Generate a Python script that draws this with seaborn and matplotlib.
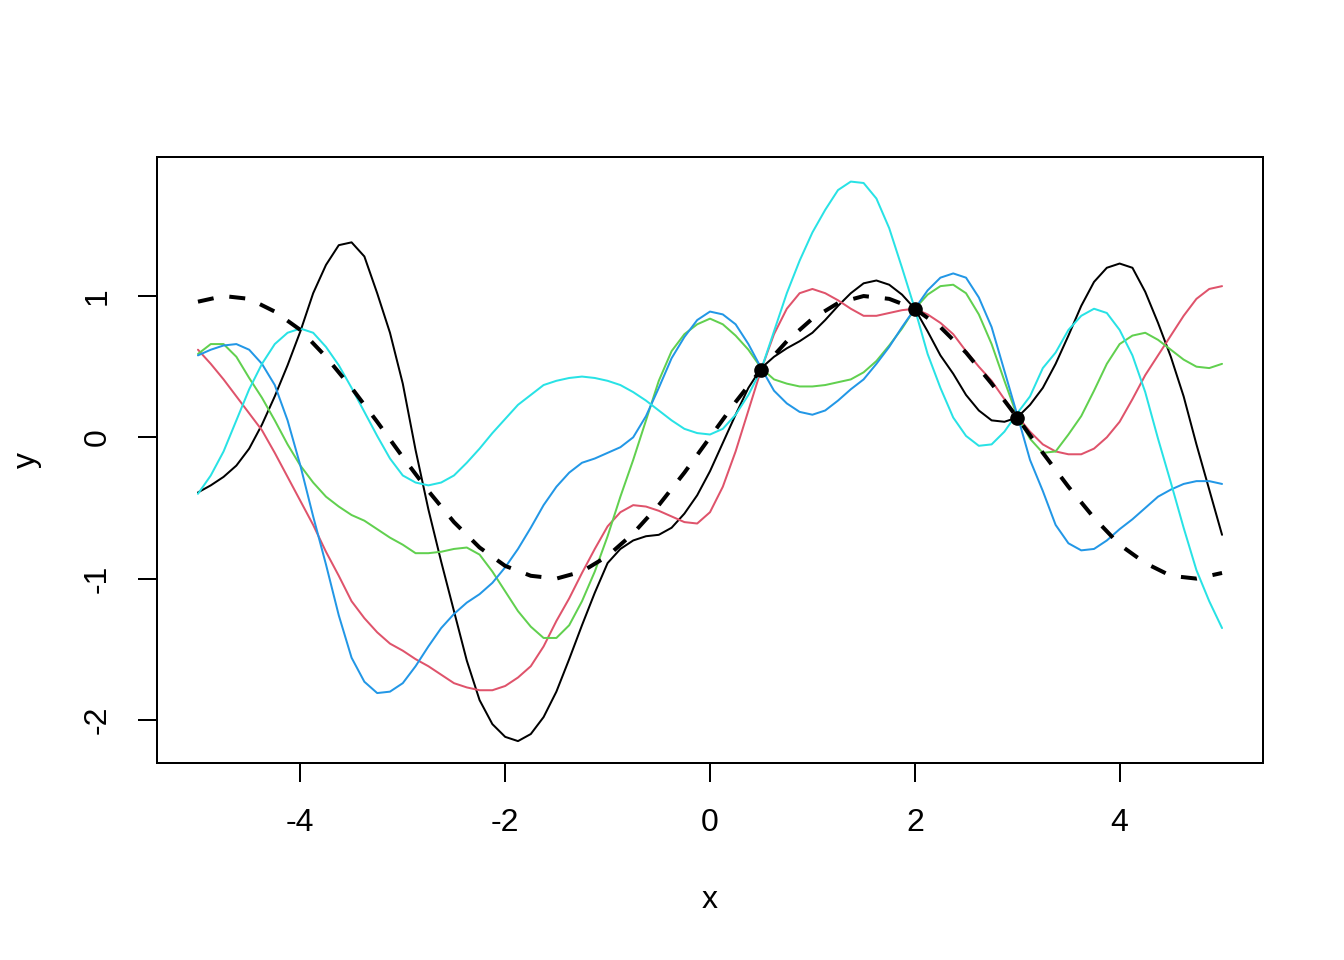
"""Gaussian process draws through three observed points, with the true curve dashed."""

import numpy as np
import pandas as pd
import matplotlib
matplotlib.use("Agg")
import matplotlib.pyplot as plt
import seaborn as sns

# x positions where the draws were read (step 0.125 from -5 to 5)
x_draw = np.linspace(-5, 5, 81)
# x positions for the true curve (step 0.25)
x_true = np.linspace(-5, 5, 41)

# true function (dashed)
y_true = [0.96, 1.00, 0.98, 0.89, 0.76, 0.57, 0.35, 0.11, -0.14, -0.38,
          -0.60, -0.78, -0.91, -0.98, -1.00, -0.95, -0.84, -0.68, -0.48, -0.25,
          0.00, 0.25, 0.48, 0.68, 0.84, 0.95, 1.00, 0.98, 0.91, 0.78,
          0.60, 0.38, 0.14, -0.11, -0.35, -0.57, -0.76, -0.89, -0.98, -1.00, -0.96]

# posterior draws, one list per colour
draw_black = [-0.39, -0.34, -0.28, -0.20, -0.08, 0.09, 0.29, 0.51, 0.75,
              1.02, 1.22, 1.36, 1.38, 1.28, 1.02, 0.74, 0.38,
              -0.09, -0.51, -0.88, -1.23, -1.58, -1.86, -2.03, -2.12,
              -2.15, -2.10, -1.98, -1.80, -1.57, -1.33, -1.10, -0.89,
              -0.79, -0.73, -0.70, -0.69, -0.64, -0.54, -0.41, -0.24,
              -0.04, 0.16, 0.35, 0.49, 0.57, 0.63, 0.68, 0.74,
              0.83, 0.93, 1.02, 1.09, 1.11, 1.08, 1.01, 0.91,
              0.75, 0.58, 0.45, 0.30, 0.19, 0.12, 0.11, 0.14,
              0.23, 0.35, 0.52, 0.72, 0.93, 1.10, 1.20, 1.23,
              1.20, 1.03, 0.81, 0.57, 0.29, -0.05, -0.37, -0.69]
draw_red = [0.62, 0.52, 0.41, 0.29, 0.17, 0.05, -0.11, -0.28, -0.45,
            -0.62, -0.81, -0.98, -1.16, -1.28, -1.38, -1.46, -1.51,
            -1.57, -1.62, -1.68, -1.74, -1.77, -1.79, -1.79, -1.76,
            -1.70, -1.62, -1.48, -1.30, -1.14, -0.96, -0.79, -0.63,
            -0.53, -0.48, -0.49, -0.52, -0.56, -0.60, -0.61, -0.53,
            -0.35, -0.10, 0.19, 0.48, 0.73, 0.91, 1.02, 1.05,
            1.02, 0.97, 0.91, 0.86, 0.86, 0.88, 0.90, 0.91,
            0.87, 0.81, 0.73, 0.61, 0.50, 0.40, 0.27, 0.15,
            0.04, -0.05, -0.10, -0.12, -0.12, -0.08, 0.00, 0.11,
            0.27, 0.44, 0.58, 0.72, 0.86, 0.98, 1.05, 1.07]
draw_green = [0.59, 0.66, 0.66, 0.57, 0.42, 0.28, 0.12, -0.05, -0.20,
              -0.32, -0.42, -0.49, -0.55, -0.59, -0.65, -0.71, -0.76,
              -0.82, -0.82, -0.81, -0.79, -0.78, -0.83, -0.95, -1.09,
              -1.23, -1.34, -1.42, -1.42, -1.33, -1.16, -0.95, -0.70,
              -0.42, -0.16, 0.12, 0.40, 0.61, 0.73, 0.80, 0.84,
              0.80, 0.72, 0.62, 0.49, 0.41, 0.38, 0.36, 0.36,
              0.37, 0.39, 0.41, 0.46, 0.54, 0.65, 0.77, 0.91,
              1.01, 1.07, 1.08, 1.02, 0.87, 0.66, 0.40, 0.15,
              -0.01, -0.11, -0.10, 0.02, 0.15, 0.33, 0.52, 0.66,
              0.72, 0.74, 0.69, 0.62, 0.55, 0.50, 0.49, 0.52]
draw_blue = [0.58, 0.62, 0.65, 0.66, 0.62, 0.52, 0.37, 0.12, -0.20,
             -0.56, -0.90, -1.26, -1.56, -1.73, -1.81, -1.80, -1.74,
             -1.62, -1.48, -1.35, -1.25, -1.17, -1.11, -1.03, -0.92,
             -0.79, -0.64, -0.48, -0.35, -0.25, -0.18, -0.15, -0.11,
             -0.07, 0.00, 0.15, 0.35, 0.56, 0.71, 0.83, 0.89,
             0.87, 0.80, 0.66, 0.49, 0.33, 0.24, 0.18, 0.16,
             0.19, 0.26, 0.34, 0.41, 0.52, 0.64, 0.78, 0.91,
             1.04, 1.13, 1.16, 1.13, 0.99, 0.78, 0.47, 0.16,
             -0.16, -0.38, -0.62, -0.75, -0.80, -0.79, -0.73, -0.65,
             -0.58, -0.50, -0.42, -0.37, -0.33, -0.31, -0.31, -0.33]
draw_cyan = [-0.40, -0.27, -0.10, 0.12, 0.34, 0.52, 0.66, 0.74, 0.77,
             0.74, 0.64, 0.51, 0.35, 0.18, 0.01, -0.15, -0.27,
             -0.32, -0.34, -0.32, -0.27, -0.18, -0.08, 0.03, 0.13,
             0.23, 0.30, 0.37, 0.40, 0.42, 0.43, 0.42, 0.40,
             0.37, 0.32, 0.26, 0.19, 0.12, 0.06, 0.03, 0.02,
             0.06, 0.16, 0.30, 0.48, 0.75, 1.02, 1.25, 1.45,
             1.61, 1.75, 1.81, 1.80, 1.69, 1.48, 1.20, 0.91,
             0.59, 0.35, 0.14, 0.01, -0.06, -0.05, 0.04, 0.17,
             0.29, 0.49, 0.60, 0.76, 0.86, 0.91, 0.88, 0.76,
             0.58, 0.32, -0.01, -0.32, -0.64, -0.94, -1.16, -1.35]

# observed points
obs_x = [0.5, 2.0, 3.0]
obs_y = [0.48, 0.91, 0.14]

draw_names = ["black", "red", "green", "blue", "cyan"]
draw_colors = ["#000000", "#DF536B", "#61D04F", "#2297E6", "#28E2E5"]
draws = [draw_black, draw_red, draw_green, draw_blue, draw_cyan]

df = pd.concat(
    [pd.DataFrame({"x": x_draw, "y": d, "draw": n}) for n, d in zip(draw_names, draws)],
    ignore_index=True,
)

sns.set_style("white")
plt.rcParams["font.family"] = ["Liberation Sans", "DejaVu Sans"]
plt.rcParams["axes.unicode_minus"] = False

fig = plt.figure(figsize=(7, 5), dpi=192)
ax = fig.add_axes([157 / 1344, 1 - 763 / 960, 1106 / 1344, 606 / 960])

sns.lineplot(data=df, x="x", y="y", hue="draw", palette=dict(zip(draw_names, draw_colors)),
             linewidth=0.75, legend=False, sort=False, ax=ax)
sns.lineplot(x=x_true, y=y_true, color="black", linewidth=1.5, ax=ax)
ax.lines[-1].set_dashes([4, 4])
sns.scatterplot(x=obs_x, y=obs_y, color="black", s=30, linewidth=0, ax=ax, zorder=5)

ax.set_xlim(-5.4, 5.4)
ax.set_ylim(-2.305, 1.984)

ax.set_xticks([-4, -2, 0, 2, 4])
ax.set_xticklabels(["-4", "-2", "0", "2", "4"])
ax.set_yticks([-2, -1, 0, 1])
ax.set_yticklabels(["-2", "-1", "0", "1"], rotation=90, va="center")

ax.tick_params(axis="both", which="major", direction="out", length=7.2, width=0.75,
               pad=9.5, labelsize=12, colors="black", bottom=True, left=True)
for sp in ax.spines.values():
    sp.set_color("black")
    sp.set_linewidth(0.75)

ax.set_xlabel("x", fontsize=12, color="black")
ax.set_ylabel("y", fontsize=12, color="black")
ax.xaxis.label.set_va("baseline")
ax.xaxis.set_label_coords(0.5, (763 - 908) / 606)
ax.yaxis.set_label_coords((42 - 157) / 1106, 0.5)

fig.savefig("out.png", dpi=192, facecolor="white")
